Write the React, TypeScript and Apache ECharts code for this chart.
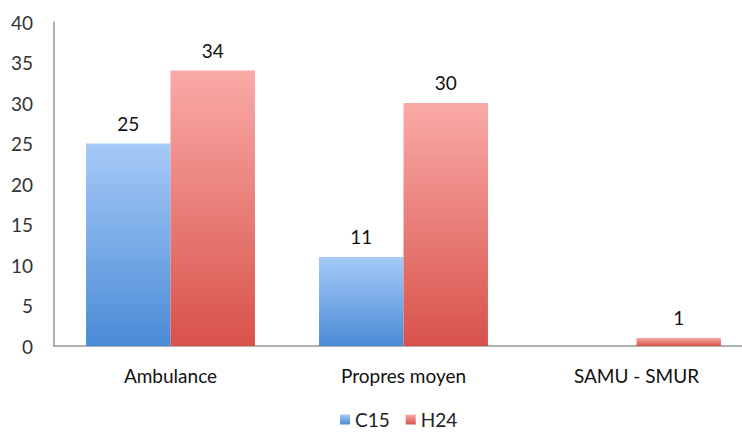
import React, { useEffect, useRef } from "react";
import * as echarts from "echarts";

const categories = ["Ambulance", "Propres moyen", "SAMU - SMUR"];
const c15Values = [25, 11, 0];
const h24Values = [34, 30, 1];
const seriesNames = ["C15", "H24"];

const FONT = "Lato, 'Open Sans', sans-serif";

function grad(top: string, bottom: string) {
  return new echarts.graphic.LinearGradient(0, 0, 0, 1, [
    { offset: 0, color: top },
    { offset: 1, color: bottom },
  ]);
}

export default function App() {
  const ref = useRef<HTMLDivElement>(null);
  useEffect(() => {
    if (!ref.current) return;
    const chart = echarts.init(ref.current, null, { renderer: "svg" });
    const labelStyle = {
      show: true,
      position: "top",
      distance: 11,
      fontFamily: FONT,
      fontSize: 19,
      color: "#111",
    };
    chart.setOption({
      animation: false,
      backgroundColor: "#ffffff",
      grid: {
        left: 54,
        right: -11,
        top: 22,
        bottom: 88,
        containLabel: false,
        outerBoundsMode: "none",
      },
      legend: {
        bottom: 0,
        left: 335,
        itemWidth: 10,
        itemHeight: 10,
        itemGap: 16,
        icon: "rect",
        textStyle: { fontFamily: FONT, fontSize: 19, color: "#222" },
        data: seriesNames,
      },
      xAxis: {
        type: "category",
        data: categories,
        axisLine: { lineStyle: { color: "#999", width: 1.5 } },
        axisTick: { show: false },
        axisLabel: { fontFamily: FONT, fontSize: 19, color: "#111", margin: 20 },
      },
      yAxis: {
        type: "value",
        min: 0,
        max: 40,
        interval: 5,
        axisLine: { show: true, lineStyle: { color: "#999", width: 1.5 } },
        axisTick: { show: false },
        splitLine: { show: false },
        axisLabel: { fontFamily: FONT, fontSize: 19, color: "#333", margin: 21 },
      },
      series: [
        {
          name: seriesNames[0],
          type: "bar",
          data: c15Values.map((v) => (v === 0 ? null : v)),
          barGap: "0%",
          barCategoryGap: "27.5%",
          itemStyle: { color: grad("#a6caf8", "#4a8bd6") },
          label: labelStyle,
        },
        {
          name: seriesNames[1],
          type: "bar",
          data: h24Values,
          barGap: "0%",
          barCategoryGap: "27.5%",
          itemStyle: { color: grad("#faaaa7", "#d8524a") },
          label: labelStyle,
        },
      ],
    });
    return () => chart.dispose();
  }, []);
  return <div ref={ref} style={{ width: 742, height: 434, position: "absolute", left: 0, top: 0 }} />;
}
